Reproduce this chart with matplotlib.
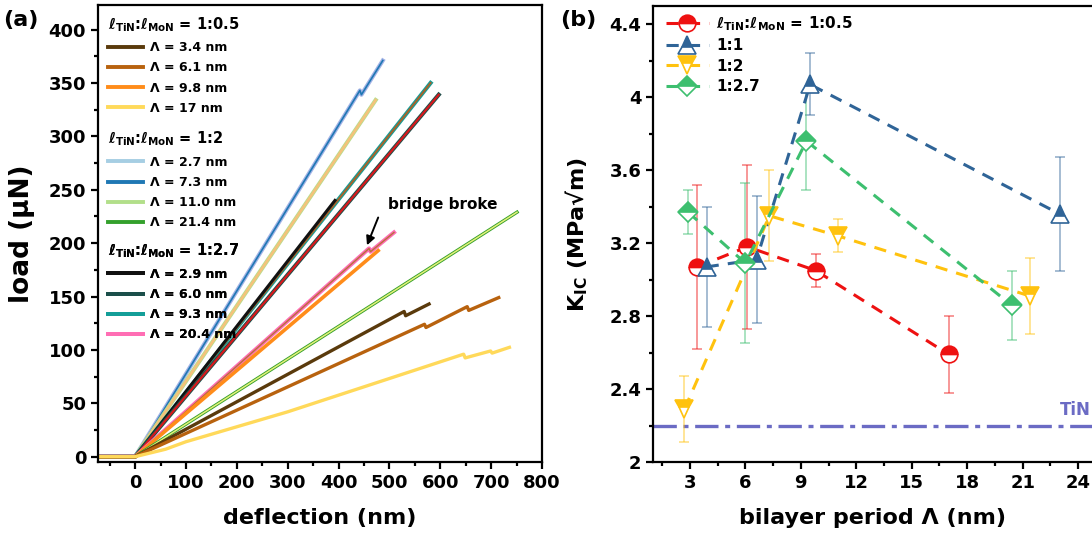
import numpy as np
import matplotlib
matplotlib.use("Agg")
import matplotlib.pyplot as plt
from matplotlib.lines import Line2D
from matplotlib.ticker import MultipleLocator, FormatStrFormatter

plt.rcParams['font.family'] = ['DejaVu Sans']
plt.rcParams['font.weight'] = 'bold'
plt.rcParams['axes.labelweight'] = 'bold'
plt.rcParams['mathtext.fontset'] = 'dejavusans'
plt.rcParams['mathtext.default'] = 'bf'
plt.rcParams['axes.linewidth'] = 1.6

# ---- panel (a): load vs deflection, curves ----
# l_TiN:l_MoN = 1:0.5
d_34 = [-70, 0, 529, 532, 578]
f_34 = [0, 0, 136, 132, 143]
d_61 = [-70, 0, 569, 572, 653, 656, 715]
f_61 = [0, 0, 124, 121, 140.5, 137, 149]
d_98 = [-70, 0, 478]
f_98 = [0, 0, 193]
d_17 = [-70, 0, 60, 100, 200, 300, 646, 649, 699, 702, 736]
f_17 = [0, 0, 7, 14, 28, 42, 96, 92.5, 99, 97, 102.4]
# 1:2
d_27 = [-70, 0, 442, 445, 487]
f_27 = [0, 0, 343, 339, 371]
d_73 = [-70, 0, 442, 445, 487]
f_73 = [0, 0, 343, 339, 371]
d_110 = [-70, 0, 751]
f_110 = [0, 0, 229]
d_214 = [-70, 0, 751]
f_214 = [0, 0, 229]
# 1:2.7
d_29 = [-70, 0, 393]
f_29 = [0, 0, 240]
d_60 = [-70, 0, 597]
f_60 = [0, 0, 339]
d_93 = [-70, 0, 581]
f_93 = [0, 0, 350]
d_204 = [-70, 0, 460, 463, 509]
f_204 = [0, 0, 195, 192, 210]
# extra curves without legend entry
d_red = [-70, 0, 597]
f_red = [0, 0, 339]
d_tan = [-70, 0, 473]
f_tan = [0, 0, 334]
d_brn = [-70, 0, 581]
f_brn = [0, 0, 350]

lab_05 = ['3.4', '6.1', '9.8', '17']
lab_12 = ['2.7', '7.3', '11.0', '21.4']
lab_127 = ['2.9', '6.0', '9.3', '20.4']
col_05 = ['#5a3a0c', '#b8620e', '#ff8c1a', '#ffd95a']
col_12 = ['#a6cee3', '#1f78b4', '#b2df8a', '#33a02c']
col_127 = ['#111111', '#1b4f4a', '#149e98', '#ff6eb4']

# ---- panel (b): K_IC vs bilayer period ----
lam_05 = [3.4, 6.1, 9.8, 17.0]
k_05 = [3.07, 3.18, 3.05, 2.59]
e_05 = [0.45, 0.45, 0.09, 0.21]
lam_11 = [3.9, 6.6, 9.5, 23.0]
k_11 = [3.07, 3.11, 4.07, 3.36]
e_11 = [0.33, 0.35, 0.17, 0.31]
lam_12 = [2.7, 7.3, 11.0, 21.4]
k_12 = [2.29, 3.35, 3.24, 2.91]
e_12 = [0.18, 0.25, 0.09, 0.21]
lam_127 = [2.9, 6.0, 9.3, 20.4]
k_127 = [3.37, 3.09, 3.76, 2.86]
e_127 = [0.12, 0.44, 0.27, 0.19]
k_tin = 2.2

ratio = r'$\ell_{\mathbf{TiN}}$:$\ell_{\mathbf{MoN}}$'

fig = plt.figure(figsize=(10.92, 5.4), dpi=100)
ax1 = fig.add_axes([0.0897, 0.1444, 0.4066, 0.8463])
ax2 = fig.add_axes([0.598, 0.1444, 0.4062, 0.8444])

# draw curves (wide underlay first, thin on top)
ax1.plot(d_27, f_27, color='#a3b3e6', lw=3.0)
ax1.plot(d_73, f_73, color=col_12[1], lw=1.2)
ax1.plot(d_tan, f_tan, color='#b9dd8e', lw=3.0)
ax1.plot(d_tan, f_tan, color='#f5c27a', lw=1.8)
ax1.plot(d_93, f_93, color=col_127[2], lw=3.0)
ax1.plot(d_brn, f_brn, color='#a8622a', lw=1.4)
ax1.plot(d_29, f_29, color=col_127[0], lw=2.2)
ax1.plot(d_60, f_60, color=col_127[1], lw=3.0)
ax1.plot(d_red, f_red, color='#d7191c', lw=1.6)
ax1.plot(d_204, f_204, color=col_127[3], lw=3.0)
ax1.plot(d_204, f_204, color='#b8703a', lw=1.0)
ax1.plot(d_98, f_98, color=col_05[2], lw=2.6)
ax1.plot(d_214, f_214, color=col_12[3], lw=2.4)
ax1.plot(d_110, f_110, color='#e6f07a', lw=1.1)
ax1.plot(d_34, f_34, color=col_05[0], lw=2.4)
ax1.plot(d_61, f_61, color=col_05[1], lw=2.4)
ax1.plot(d_17, f_17, color=col_05[3], lw=2.4)

ax1.text(605, 236, 'bridge broke', ha='center', va='center', fontsize=11,
         fontweight='bold')
ax1.annotate('', xy=(456, 198), xytext=(478, 224),
             arrowprops=dict(arrowstyle='-|>', color='black', lw=1.4,
                             shrinkA=0, shrinkB=0, mutation_scale=13))

ax1.set_xlim(-73, 800)
ax1.set_ylim(-5, 423)
ax1.xaxis.set_major_locator(MultipleLocator(100))
ax1.xaxis.set_minor_locator(MultipleLocator(50))
ax1.yaxis.set_major_locator(MultipleLocator(50))
ax1.yaxis.set_minor_locator(MultipleLocator(25))
ax1.set_xlabel('deflection (nm)', fontsize=16)
ax1.set_ylabel('load (μN)', fontsize=19)
ax1.xaxis.set_label_coords(0.5, -0.1)
ax1.yaxis.set_label_coords(-0.142, 0.5)

groups = [(lab_05, col_05, '1:0.5', 0.978),
          (lab_12, col_12, '1:2', 0.727),
          (lab_127, col_127, '1:2.7', 0.482)]
for labs, cols, r, ytop in groups:
    hs = [Line2D([], [], color=c, lw=2.8) for c in cols]
    lg = ax1.legend(hs, ['Λ = %s nm' % s for s in labs],
                    title=ratio + ' = ' + r, title_fontproperties={'size': 10.5, 'weight': 'bold'},
                    alignment='left', loc='upper left', bbox_to_anchor=(0.022, ytop),
                    frameon=False, fontsize=9, handlelength=2.8, handletextpad=0.6,
                    labelspacing=0.58, borderpad=0, borderaxespad=0)
    ax1.add_artist(lg)

# panel (b)
series = [(lam_05, k_05, e_05, '#ee1111', 'o', 12, ratio + ' = 1:0.5'),
          (lam_11, k_11, e_11, '#2f6497', '^', 13, '1:1'),
          (lam_12, k_12, e_12, '#ffc20e', 'v', 13, '1:2'),
          (lam_127, k_127, e_127, '#3dbf6f', 'D', 10, '1:2.7')]
for x, y, e, c, m, ms, lab in series:
    ax2.errorbar(x, y, yerr=e, fmt='none', ecolor=c, alpha=0.55, elinewidth=1.1,
                 capsize=3.5, capthick=1.1, zorder=2)
for x, y, e, c, m, ms, lab in series:
    ax2.plot(x, y, color=c, ls=(0, (4, 3)), lw=2.2, marker=m, ms=ms,
             fillstyle='top', markerfacecolor=c, markerfacecoloralt='white',
             markeredgecolor=c, markeredgewidth=1.2, label=lab, zorder=3)

ax2.axhline(k_tin, color='#6b6bc4', lw=2.4, ls=(0, (7, 2, 1.5, 2)), zorder=1)
ax2.text(23.0, k_tin + 0.085, 'TiN', color='#6b6bc4', fontsize=12,
         fontweight='bold', ha='left', va='center', clip_on=False)

ax2.set_xlim(1, 25)
ax2.set_ylim(2, 4.5)
ax2.xaxis.set_major_locator(MultipleLocator(3))
ax2.xaxis.set_minor_locator(MultipleLocator(1.5))
ax2.yaxis.set_major_locator(MultipleLocator(0.4))
ax2.yaxis.set_minor_locator(MultipleLocator(0.2))
ax2.yaxis.set_major_formatter(FormatStrFormatter('%g'))
ax2.set_xlabel('bilayer period Λ (nm)', fontsize=16)
ax2.set_ylabel(r'K$_{\mathbf{IC}}$ (MPa√m)', fontsize=16)
ax2.xaxis.set_label_coords(0.495, -0.1)
ax2.yaxis.set_label_coords(-0.142, 0.5)
ax2.legend(loc='upper left', bbox_to_anchor=(0.029, 0.982), frameon=False,
           fontsize=11, handlelength=2.8, handletextpad=0.5, labelspacing=0.35,
           borderpad=0, borderaxespad=0)

for ax in (ax1, ax2):
    ax.tick_params(which='major', direction='out', length=5, width=1.6, labelsize=13)
    ax.tick_params(which='minor', direction='out', length=3, width=1.6)
    for lbl in ax.get_xticklabels() + ax.get_yticklabels():
        lbl.set_fontweight('bold')

fig.text(0.003, 0.963, '(a)', fontsize=16, fontweight='bold', va='center')
fig.text(0.513, 0.963, '(b)', fontsize=16, fontweight='bold', va='center')

fig.savefig('out.png', dpi=100)
